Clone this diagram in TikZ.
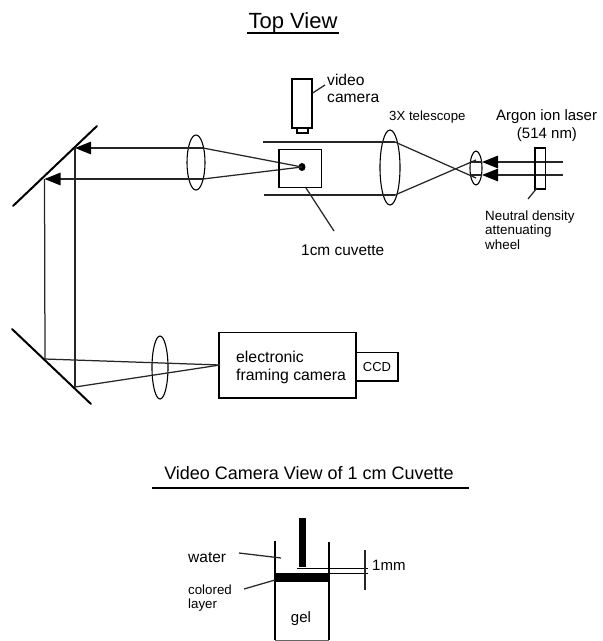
\documentclass[tikz,border=0pt]{standalone}
\usepackage{fontspec}
\setmainfont{Liberation Sans}
\usetikzlibrary{arrows.meta,shapes.geometric}
\tikzset{
 ln/.style={line width=1.25pt,black!85},
 thick mirror/.style={line width=2pt,line cap=round},
 beam/.style={line width=1.4pt,black!85,-{Triangle[length=16pt,width=12.5pt,fill=black,color=black]}},
 lens/.style={draw,line width=1.1pt,ellipse,inner sep=0},
 boxy/.style={draw,line width=1.25pt,inner sep=0},
 txt/.style={inner sep=0,anchor=base west},
 ctxt/.style={inner sep=0,anchor=base},
 fs/.style={font=\fontsize{#1}{#1}\selectfont},
}
\begin{document}
\begin{tikzpicture}[x=1pt,y=-1pt]
\useasboundingbox (0,0) rectangle (603,641);
% titles
\node[ctxt,fs=22] (t1) at (293,28) {Top View};
\coordinate (t1a) at (247,33); \coordinate (t1b) at (339,33);
\draw[line width=1.3pt] (t1a) -- (t1b);
\node[ctxt,fs=18] (t2) at (309,479) {Video Camera View of 1 cm Cuvette};
\coordinate (t2a) at (152,488); \coordinate (t2b) at (469,488);
\draw[line width=1.3pt] (t2a) -- (t2b);
% mirrors
\coordinate (m1a) at (13,206); \coordinate (m1b) at (97,126);
\coordinate (m2a) at (12,329); \coordinate (m2b) at (91,404);
\draw[thick mirror] (m1a) -- (m1b);
\draw[thick mirror] (m2a) -- (m2b);
% lenses
\node[lens,minimum width=18pt,minimum height=55pt] (L1) at (196,162.5) {};
\node[lens,minimum width=16pt,minimum height=63pt] (L2) at (160,367.5) {};
\node[lens,minimum width=20pt,minimum height=75pt] (L3) at (390,167.5) {};
\node[lens,minimum width=12pt,minimum height=34pt] (L4) at (476,168) {};
% reflection points
\coordinate (a) at (75,148); \coordinate (b) at (44.5,179);
\coordinate (c) at (75,387); \coordinate (d) at (45,359);
\coordinate (up) at (203,148); \coordinate (lo) at (203,179);
% beams left
\draw[beam] (up) -- (a);
\draw[beam] (lo) -- (b);
\draw[ln] (a) -- (c);
\draw[ln] (b) -- (d);
% sample dot
\node[ellipse,fill=black,minimum width=7pt,minimum height=8pt,inner sep=0] (dot) at (302,167) {};
\draw[ln] (up) -- (dot.center);
\draw[ln] (lo) -- (dot.center);
% camera
\node[boxy,minimum width=137pt,minimum height=65.5pt] (cam) at (287.5,365.25) {};
\node[boxy,minimum width=42pt,minimum height=28.5pt] (ccd) at (377,366.75) {};
\node[inner sep=0,fs=13] at (ccd) {CCD};
\node[txt,fs=15.8] (e1) at (236,362) {electronic};
\node[txt,fs=15.8] (e2) at (236,380) {framing camera};
\coordinate (f) at (220,365);
\draw[ln] (d) -- (f);
\draw[ln] (c) -- (f);
% video camera
\node[boxy,minimum width=20pt,minimum height=49pt] (vc) at (302,103.5) {};
\node[boxy,minimum width=11pt,minimum height=5pt] (nub) at (302.5,130.5) {};
\node[txt,fs=15.6] (v1) at (327,85) {video};
\node[txt,fs=15.6] (v2) at (327,102) {camera};
\coordinate (vl) at (325,85);
\draw[ln] (vc.east |- 0,93) -- (vl);
% tubes
\coordinate (tt1) at (263,142); \coordinate (tt2) at (395,142);
\coordinate (tb1) at (264,195); \coordinate (tb2) at (395,195);
\draw[ln] (tt1) -- (tt2);
\draw[ln] (tb1) -- (tb2);
% cuvette
\node[boxy,minimum width=42.5pt,minimum height=38pt] (cuv) at (300.25,168.5) {};
\coordinate (cl1) at (306,188); \coordinate (cl2) at (334,231);
\draw[ln] (cl1) -- (cl2);
\node[txt,fs=15.4] (cl) at (301,255) {1cm cuvette};
% telescope
\node[txt,fs=13.2] (ts) at (389,120) {3X telescope};
\coordinate (x1) at (476,178); \coordinate (x2) at (476,160);
\draw[ln] (tt2) -- (x1);
\draw[ln] (tb2) -- (x2);
% laser beams
\coordinate (r1) at (563,162); \coordinate (r2) at (563,175);
\coordinate (h1) at (482,162); \coordinate (h2) at (482,175);
\draw[beam] (r1) -- (h1);
\draw[beam] (r2) -- (h2);
\coordinate (h3) at (470,162); \coordinate (h4) at (470,175);
\draw[ln] (h1) -- (h3);
\draw[ln] (h2) -- (h4);
% wheel
\node[boxy,minimum width=10.5pt,minimum height=41pt] (wh) at (540.25,168.5) {};
\coordinate (wl1) at (528,199); \coordinate (wl2) at (537,188);
\draw[ln] (wl1) -- (wl2);
\node[txt,fs=15] (ar) at (496,120) {Argon ion laser};
\node[ctxt,fs=15] (nm) at (547,138) {(514 nm)};
\node[txt,fs=13.4] (n1) at (485,220) {Neutral density};
\node[txt,fs=13.4] (n2) at (485,234.5) {attenuating};
\node[txt,fs=13.4] (n3) at (485,249) {wheel};
% bottom cuvette
\coordinate (wa) at (275,541); \coordinate (wb) at (275,640);
\coordinate (wc) at (329,542); \coordinate (wd) at (329,640);
\draw[line width=1.3pt] (wa) -- (wb);
\draw[line width=1.3pt] (wc) -- (wd);
\draw[line width=.9pt,black!60] (wb) -- (wd);
\fill (275,573) rectangle (329,582);
\fill (298.5,518) rectangle (305.5,567);
\coordinate (g1) at (297,568); \coordinate (g2) at (368,568);
\coordinate (g3) at (329,573.5); \coordinate (g4) at (368,573.5);
\coordinate (g5) at (365,550); \coordinate (g6) at (365,590);
\draw[line width=.9pt] (g1) -- (g2);
\draw[line width=.9pt] (g3) -- (g4);
\draw[ln] (g5) -- (g6);
\node[txt,fs=15] (mm) at (372,570) {1mm};
\node[txt,fs=15.5] (wt) at (188,562) {water};
\coordinate (wl3) at (239,553); \coordinate (wl4) at (281,558);
\draw[ln] (wl3) -- (wl4);
\node[txt,fs=13.3] (co) at (188,594) {colored};
\node[txt,fs=13.3] (la) at (188,608) {layer};
\coordinate (cl3) at (244,589); \coordinate (cl4) at (275,580);
\draw[ln] (cl3) -- (cl4);
\node[ctxt,fs=15] (ge) at (301,622) {gel};
\end{tikzpicture}
\end{document}
